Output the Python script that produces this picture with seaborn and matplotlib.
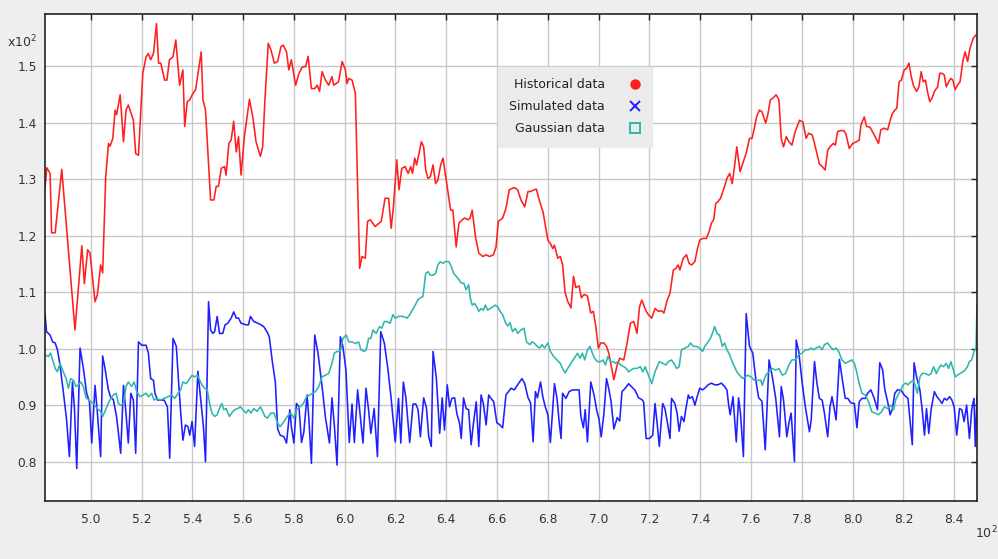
import matplotlib
matplotlib.use("Agg")
import matplotlib.pyplot as plt
import seaborn as sns
import pandas as pd
from matplotlib.lines import Line2D

# ---- data (x in units, y in units; axis labels show value/100) ----
hist_pts = [(482.0,128.4),(482.7,132.0),(484.0,131.0),(484.6,120.5),(486.0,120.5),(488.6,131.7),(493.8,103.3),(496.5,118.2),(497.5,111.5),(498.8,117.5),(499.7,116.9),(501.7,108.3),(502.6,109.5),(503.9,114.8),(504.7,113.4),(505.9,130.4),(507.0,136.3),(507.6,135.8),(508.7,137.2),(509.6,142.2),(510.2,141.4),(511.6,144.9),(512.9,136.6),(513.9,142.2),(514.8,143.1),(516.8,140.4),(517.7,134.5),(518.8,134.2),(520.5,148.7),(521.8,151.6),(522.7,152.2),(523.6,151.1),(524.7,152.2),(525.9,157.5),(526.7,150.5),(527.6,150.5),(529.1,147.5),(530.0,147.5),
(531.0,151.1),(532.4,151.6),(533.5,154.6),(535.0,146.6),(536.3,149.3),(537.0,139.3),(538.0,143.7),(539.0,144.0),(540.3,145.2),(541.3,145.8),(543.5,152.5),(544.2,144.0),(545.2,142.2),(547.2,126.3),(548.5,126.3),(549.4,128.7),(550.3,128.7),(551.4,131.9),(552.7,132.2),(553.3,130.7),(554.4,136.3),(555.3,136.9),(556.3,140.2),(557.3,134.8),(558.2,137.5),(559.2,130.7),(560.5,137.5),(562.5,144.1),(563.8,141.0),(565.1,136.6),(566.8,134.0),(567.7,135.7),(568.6,144.0),(569.9,154.0),(571.0,152.8),(572.3,150.5),(573.6,150.8),(574.9,153.4),(575.8,153.7),(577.1,152.5),(578.0,149.3),(579.0,151.1),(580.7,146.6),(582.0,148.7),(583.3,149.8),(584.6,149.9),(585.6,151.7),(586.9,146.0),(588.2,146.0),(589.2,146.6),(590.1,145.5),(591.1,149.0),(592.4,147.5),(593.7,146.6),(595.0,148.1),(595.7,146.6),(597.6,147.2),(599.0,150.8),(600.3,149.3),(600.9,146.9),(601.6,147.8),(602.9,147.5),(604.2,145.2),(605.1,129.2),(605.9,114.2),(606.8,116.3),(608.1,116.0),(609.0,122.5),(610.1,122.8),(612.0,121.6),(614.4,122.5),(615.9,126.6),(617.3,126.6),(618.3,121.3),(619.2,125.1),(620.5,133.4),(621.4,128.1),(622.5,131.9),(623.8,132.2),
(625.0,131.0),(626.0,132.2),(626.7,131.0),(627.6,133.7),(628.3,132.5),(629.3,134.6),(630.2,136.6),(631.1,135.7),(631.9,131.6),(632.8,130.1),(633.7,130.4),(634.8,132.5),(635.8,129.2),(636.7,129.8),(637.8,132.5),(638.7,133.7),(640.0,129.8),(641.7,124.5),(642.6,124.5),(643.9,118.0),(645.0,122.2),(646.3,122.8),(647.2,123.1),(648.5,122.8),(649.4,123.1),(650.2,124.5),(651.5,119.8),(652.8,116.9),(654.4,116.3),(655.7,116.6),(657.0,116.3),(658.6,116.6),(659.6,118.0),(660.5,122.5),(662.2,123.1),(663.5,124.8),(664.8,128.1),(666.8,128.5),(668.1,128.1),(669.4,126.3),
(670.9,125.1),(672.2,127.8),(673.3,127.8),(674.5,128.1),(675.5,128.2),(676.8,126.0),(678.1,124.2),(679.4,120.7),(680.0,119.2),(681.0,118.6),(681.9,117.7),(682.6,118.3),(683.9,116.0),(684.9,116.3),(685.8,114.9),(686.8,109.9),(687.8,108.4),(689.1,107.2),(690.1,112.8),(691.0,110.8),(692.3,111.1),(693.2,109.0),(694.3,109.6),(695.6,109.3),(696.9,106.3),(697.9,106.6),(698.8,104.2),(699.9,100.1),(700.8,101.0),(702.1,101.0),(703.1,100.4),(704.0,99.2),(704.9,97.1),(706.0,94.5),(707.3,97.1),(708.3,98.3),(709.9,98.0),(711.2,101.0),(712.5,104.5),(713.8,104.8),(715.1,102.7),(716.1,107.4),(717.0,108.6),
(718.7,106.6),(719.6,106.0),(720.9,105.4),(722.2,107.1),(723.5,106.6),(724.8,106.7),(725.7,106.3),(727.0,108.6),(728.1,109.8),(729.4,113.9),(730.4,114.2),(731.3,114.8),(732.0,113.9),(733.3,116.0),(734.6,116.6),(735.6,115.1),(736.6,114.8),(737.9,115.4),(738.8,117.5),(739.8,119.2),(741.1,119.5),(742.4,119.5),(743.5,120.7),(744.4,122.2),(745.3,122.8),(746.1,125.7),(747.0,126.0),(748.0,126.6),(748.7,127.5),(749.6,128.7),(750.5,130.1),(751.6,131.0),(752.6,129.2),(753.5,132.2),(754.4,135.7),(755.7,131.3),(756.8,132.8),(758.1,134.6),(759.4,137.2),(760.4,137.2),(761.3,139.0),(762.2,141.0),(763.3,142.2),(764.3,141.9),
(765.8,139.9),(766.7,141.6),(767.6,144.0),(768.6,144.3),(769.9,144.9),(771.0,144.0),(771.9,137.2),(772.8,135.7),(773.9,137.5),(774.9,136.6),(776.1,136.0),(777.4,138.4),(779.1,140.4),(780.4,140.1),(781.7,137.2),(782.7,138.1),(784.1,137.8),(785.0,136.3),(785.9,134.6),(786.9,132.7),(788.0,132.2),(789.2,131.6),(790.2,135.1),(791.1,135.7),(792.4,136.3),(793.2,136.0),(794.1,138.4),(795.4,138.6),(796.7,138.5),(797.4,137.9),(798.7,135.4),(800.0,136.3),(801.6,136.6),(802.6,136.9),(803.3,139.6),(804.6,141.0),(805.5,139.3),(806.8,139.2),(807.8,138.4),(809.2,137.2),(810.2,136.3),(811.1,138.7),(812.4,139.0),
(813.8,138.7),(814.8,140.4),(815.7,141.6),(816.6,142.2),(817.4,142.5),(818.3,147.2),(819.2,147.5),(820.3,149.3),(821.3,149.6),(822.2,150.5),(823.1,148.1),(823.9,146.6),(825.2,145.5),(826.1,146.3),(827.0,149.0),(827.8,147.2),(828.7,147.5),(829.6,145.2),(830.4,143.7),(831.3,144.3),(832.2,145.5),(833.5,146.3),(834.3,148.7),(835.2,148.7),(836.1,148.4),(836.9,146.3),(837.8,147.2),(838.7,147.8),(839.5,147.5),(840.4,145.8),(841.3,146.6),(842.3,147.2),(843.4,150.8),(844.3,152.5),(845.3,150.8),(846.2,153.1),(847.5,154.9),(848.6,155.5)]

sim_pts = [(482.0,106.2),(482.6,103.0),(484.0,102.4),(485.0,101.2),(486.0,101.0),(486.9,99.8),(487.9,97.1),(489.2,92.4),(490.5,87.4),(491.6,80.9),(492.8,94.1),(493.6,89.4),(494.5,78.8),(495.8,100.1),(497.1,96.5),(498.4,92.1),(499.5,90.6),(500.4,83.3),(501.7,93.5),(502.6,88.8),(503.9,80.9),(504.7,98.7),(505.6,96.6),(506.9,92.8),(507.9,91.3),(508.9,91.0),(510.2,87.9),(511.8,81.5),(512.9,93.5),(513.9,88.5),(514.8,83.3),(515.8,92.1),(516.8,90.9),(517.7,81.5),(518.8,101.2),(520.1,100.6),(521.8,100.6),(522.7,99.2),(523.6,94.7),(524.7,94.4),(525.3,92.1),(526.3,90.9),(527.3,90.9),(528.9,90.9),
(530.2,89.7),(531.1,80.6),(532.4,101.8),(533.7,100.4),(534.6,94.1),(535.4,88.9),(536.3,83.8),(537.3,86.5),(538.3,86.2),(539.0,84.7),(539.9,87.1),(540.9,82.7),(542.2,96.0),(543.5,90.2),(544.4,86.1),(545.2,80.0),(546.4,108.3),(547.2,103.3),(548.1,102.7),(548.8,103.0),(549.8,105.7),(550.7,102.7),(552.0,102.7),(552.9,104.2),(554.0,104.5),(555.3,105.4),(556.3,106.5),(557.3,105.4),(558.2,105.4),(559.2,104.5),(561.2,104.2),(562.1,104.2),(562.9,105.7),(564.2,104.8),(565.8,104.5),(567.1,104.2),(568.1,103.9),(569.4,103.0),(570.3,102.1),(571.6,97.4),(572.7,94.1),(573.6,85.8),(574.6,84.7),
(576.1,84.4),(577.1,83.3),(578.4,89.2),(579.0,86.2),(580.0,83.3),(581.0,90.3),(582.0,89.7),(583.0,83.4),(583.9,85.2),(585.2,91.8),(585.9,87.6),(586.9,79.7),(588.2,102.4),(589.5,99.2),(591.1,93.3),(592.4,87.9),(594.0,83.3),(595.0,91.3),(595.9,86.6),(597.0,79.4),(598.3,102.1),(599.3,100.4),(600.5,96.2),(601.8,83.4),(602.9,90.2),(603.8,83.4),(605.1,92.7),(606.1,88.3),(607.2,83.3),(608.4,93.0),(609.4,89.2),(610.3,85.0),(611.6,89.4),(612.9,80.9),(614.2,103.0),(615.6,101.0),(616.9,96.8),(618.3,91.2),(619.9,83.5),(621.2,91.2),(622.1,83.3),(623.1,94.1),
(624.1,91.3),(625.6,83.4),(626.9,90.2),(628.0,90.2),(628.9,89.2),(629.8,84.4),(631.1,91.3),(632.2,89.5),(633.1,84.4),(634.1,82.7),(634.8,99.5),(636.1,94.8),(637.4,85.0),(638.4,91.3),(639.3,85.6),(640.4,93.6),(641.3,89.7),(642.2,91.2),(643.3,91.3),(644.2,88.4),(645.2,86.9),(645.9,84.1),(646.8,91.3),(647.8,89.4),(648.8,89.2),(649.8,83.0),(650.7,86.8),(651.8,90.6),(652.8,82.7),(653.7,91.8),(654.6,90.3),(655.7,86.5),(656.7,91.8),(657.6,91.2),(658.7,90.6),(659.9,86.9),(660.9,86.6),(662.2,86.0),(663.5,91.8),(665.5,93.0),(666.8,92.7),(668.1,93.6),(669.8,94.7),
(670.9,93.8),(672.2,91.3),(673.2,90.4),(674.2,83.5),(675.1,92.4),(675.9,91.3),(677.1,94.1),(678.1,91.3),(679.0,89.7),(680.0,88.3),(681.0,83.4),(682.6,93.8),(683.6,91.2),(684.5,86.8),(685.2,84.1),(685.8,92.1),(687.1,91.2),(688.4,92.4),(689.7,92.7),(691.0,92.7),(692.3,92.7),(693.0,88.0),(694.0,86.0),(694.7,89.2),(695.6,83.5),(696.9,94.1),(698.2,91.8),(699.2,89.2),(700.1,87.6),(701.0,84.4),(702.1,88.6),(703.1,94.7),(704.0,92.9),(704.9,90.6),(706.0,85.8),(707.3,87.8),(708.3,87.2),(709.2,92.4),(710.5,93.0),(711.8,93.8),(713.1,93.2),(714.4,92.6),(715.7,91.3),(717.0,91.0),
(717.7,90.6),(718.7,84.1),(720.0,84.1),(721.3,84.7),(722.2,90.3),(723.1,86.5),(723.9,82.7),(725.2,90.3),(726.1,89.4),(727.0,87.1),(728.1,84.1),(728.7,91.2),(730.0,90.3),(730.9,88.6),(731.7,85.4),(732.6,88.0),(733.6,87.1),(734.3,89.2),(735.3,91.8),(735.9,91.2),(736.9,91.5),(737.9,90.0),(738.8,91.5),(739.8,93.0),(740.9,92.7),(741.8,93.0),(743.1,93.6),(744.4,93.9),(745.7,93.6),(747.0,93.6),(748.3,93.9),(749.6,93.3),(750.5,92.7),(751.3,89.7),(751.8,88.3),(752.9,91.5),(754.2,83.5),(755.1,91.3),(755.9,88.3),(757.0,80.9),(758.1,106.2),(759.4,100.4),(760.7,99.2),(762.0,94.1),(763.0,91.3),(764.3,90.7),
(765.6,82.1),(767.1,98.0),(768.4,95.0),(769.7,91.3),(771.2,84.4),(771.9,93.3),(772.8,90.9),(774.1,84.4),(774.9,86.8),(775.8,88.6),(777.1,80.0),(777.8,101.5),(778.8,99.5),(780.1,94.1),(781.4,89.7),(783.0,85.3),(783.7,87.4),(785.0,97.7),(785.9,94.1),(786.9,91.2),(788.0,90.9),(788.9,88.6),(790.2,84.4),(791.1,89.7),(791.9,91.5),(792.4,90.3),(793.5,87.4),(794.8,98.1),(796.1,94.1),(797.1,91.2),(798.1,91.2),(799.3,90.4),(800.7,90.3),(801.7,86.0),(802.6,90.6),(803.7,91.2),(805.0,91.2),(805.9,92.1),(807.2,92.7),(808.5,91.2),(809.8,89.2),(810.7,97.5),(811.8,96.3),
(812.7,92.7),(813.8,90.6),(814.8,88.3),(815.7,89.4),(816.6,92.1),(817.7,92.7),(819.0,92.7),(820.3,91.8),(821.8,91.2),(822.6,87.4),(823.5,83.0),(824.2,97.5),(825.2,95.0),(826.5,92.7),(827.4,89.2),(828.3,84.7),(829.1,89.4),(830.0,85.0),(830.9,89.2),(832.2,92.4),(833.2,91.5),(834.3,90.9),(835.2,90.3),(836.1,91.2),(837.1,90.9),(838.2,91.5),(839.1,90.9),(840.0,89.7),(841.0,84.7),(842.1,89.4),(843.0,89.2),(843.9,87.1),(844.9,90.0),(846.0,84.1),(846.9,89.2),(847.8,91.2),(848.3,82.7),(849.0,91.8)]

gauss_pts = [(482.0,98.9),(483.3,98.6),(484.2,99.2),(485.0,98.0),(486.0,96.5),(486.9,95.9),(487.9,97.4),(489.2,95.9),(490.3,94.7),(491.2,93.0),(492.1,94.7),(493.2,94.4),(494.2,93.3),(495.1,93.6),(496.1,94.1),(497.1,93.3),(498.2,91.3),(499.1,91.0),(500.0,90.6),(501.1,90.3),(502.1,89.7),(503.0,89.2),(503.9,88.9),(504.7,88.0),(505.6,88.9),(506.9,90.3),(507.9,91.2),(508.9,91.8),(510.0,92.1),(510.9,90.3),(511.8,90.0),(512.9,90.3),(513.9,93.3),(514.8,94.1),(516.1,93.3),(517.1,94.1),(518.1,92.4),(519.4,91.5),(520.7,91.8),(521.8,92.1),(522.7,91.5),(524.0,92.1),(524.9,90.9),(526.0,91.2),(527.3,90.9),(528.9,91.2),
(530.5,91.5),(531.8,91.8),(533.1,91.2),(534.4,92.1),(535.4,92.7),(536.3,94.1),(537.6,93.8),(539.0,94.7),(539.9,95.3),(540.9,95.0),(542.0,95.3),(542.9,94.4),(543.8,93.6),(544.8,93.0),(545.9,92.7),(546.8,90.3),(547.7,88.6),(548.8,88.0),(549.8,88.3),(550.7,89.4),(551.6,90.3),(552.4,89.2),(553.3,89.4),(554.6,88.0),(555.5,88.6),(556.6,89.2),(557.9,89.4),(558.9,89.7),(559.9,89.2),(561.2,88.6),(562.1,89.2),(563.1,88.6),(564.2,89.4),(565.5,88.9),(566.8,89.7),(567.7,88.9),(568.6,88.0),(569.6,87.7),(570.9,88.6),(572.2,88.6),(573.6,86.8),(574.6,86.2),
(576.1,87.1),(577.4,88.0),(578.7,88.6),(580.0,87.7),(581.0,89.2),(582.4,89.7),(583.7,90.3),(585.0,91.5),(586.3,91.8),(587.2,92.1),(588.5,92.4),(589.8,93.3),(591.1,95.0),(592.4,95.3),(593.7,95.6),(595.0,97.4),(595.9,99.2),(597.0,99.5),(598.3,99.5),(599.3,101.8),(600.6,102.4),(601.6,101.2),(602.9,101.2),(604.2,100.9),(605.5,101.2),(606.4,99.8),(607.7,99.5),(608.5,99.8),(609.4,101.8),(610.3,101.8),(611.1,103.3),(612.4,102.7),(613.7,103.9),(614.6,103.6),(615.6,104.8),(616.6,104.8),(617.9,104.5),(619.0,106.0),(619.9,105.4),(621.2,105.7),
(623.0,105.7),(624.6,105.4),(625.6,106.0),(626.9,107.0),(628.0,107.9),(628.9,108.7),(629.8,109.0),(630.8,109.2),(631.9,113.3),(632.8,113.6),(633.7,113.0),(634.8,113.0),(635.8,113.3),(636.7,114.8),(637.6,115.4),(638.7,115.1),(639.7,115.4),(641.0,115.4),(642.0,114.5),(642.9,113.3),(643.9,112.8),(645.0,112.2),(645.9,111.6),(646.9,111.6),(647.8,110.4),(648.8,111.3),(649.5,108.9),(650.2,107.7),(651.1,108.0),(652.0,107.4),(652.8,106.6),(653.7,107.1),(654.6,106.8),(655.4,107.7),(656.3,106.8),(657.3,107.1),(658.3,107.4),(659.3,107.7),(660.3,107.4),(661.2,106.6),(662.2,106.0),(663.3,104.6),(664.2,104.0),(665.1,104.6),(666.1,103.0),(667.2,103.6),(668.1,102.7),(669.4,103.3),
(670.6,103.6),(671.6,101.2),(672.9,100.7),(673.8,101.2),(674.8,100.9),(675.8,100.4),(676.8,100.1),(677.7,100.7),(678.7,100.1),(680.0,101.0),(681.0,99.5),(682.3,98.6),(683.6,98.0),(684.9,97.4),(685.8,96.5),(686.8,95.7),(687.8,96.5),(689.1,97.4),(690.4,98.3),(691.7,99.2),(692.7,98.3),(693.6,99.2),(694.5,98.0),(695.6,99.8),(696.6,100.4),(697.5,99.2),(698.4,98.3),(699.5,97.7),(700.8,97.7),(701.8,98.0),(702.7,97.1),(703.6,98.6),(704.7,97.7),(705.7,97.7),(706.6,97.4),(707.5,97.7),(708.6,97.1),(709.9,96.8),(710.9,96.5),(711.8,95.9),(712.7,96.2),(713.8,96.5),(715.1,96.5),(716.4,96.8),
(717.4,95.9),(718.3,96.8),(719.6,95.3),(720.9,93.8),(722.2,95.9),(723.9,97.7),(725.2,97.4),(726.5,97.1),(727.4,97.7),(728.7,98.0),(729.6,97.4),(730.7,96.5),(731.7,96.8),(732.6,99.8),(734.0,100.1),(735.3,100.4),(736.2,101.0),(737.2,100.4),(738.5,100.4),(739.8,100.1),(740.9,99.5),(741.8,100.4),(743.1,101.2),(744.0,101.8),(744.8,102.7),(745.7,103.9),(746.6,102.7),(747.6,102.4),(748.7,100.4),(749.6,101.0),(750.5,99.8),(751.6,98.9),(752.6,97.7),(753.5,96.8),(754.4,95.9),(755.5,95.3),(756.8,94.7),(757.8,95.0),(758.7,95.3),(760.0,95.0),(761.3,94.4),(762.6,94.4),(763.9,94.4),
(764.4,93.5),(765.8,95.3),(767.1,95.9),(768.4,96.5),(769.7,96.2),(771.0,96.5),(772.3,95.3),(773.6,95.6),(774.9,97.1),(776.1,98.0),(777.5,98.0),(778.8,98.9),(780.1,99.2),(781.4,99.8),(782.7,99.8),(783.7,100.1),(784.6,99.8),(785.6,100.1),(786.9,100.4),(788.0,99.8),(788.9,100.7),(790.2,101.0),(791.1,100.4),(792.4,99.8),(793.5,100.1),(794.5,99.5),(795.8,98.0),(797.1,97.4),(798.4,97.7),(799.7,98.0),(800.7,97.4),(801.6,95.9),(802.6,93.8),(803.7,92.1),(805.0,91.8),(806.3,90.6),(807.6,88.8),(808.9,88.6),(810.2,88.3),(811.5,88.9),
(812.5,89.7),(813.8,89.4),(815.1,90.0),(816.1,89.2),(817.0,91.0),(817.9,91.8),(819.0,92.7),(819.9,93.6),(820.9,93.9),(821.8,93.6),(822.9,94.1),(823.9,94.4),(824.8,93.3),(825.5,92.1),(826.5,95.0),(827.4,95.6),(828.7,95.6),(830.0,95.3),(830.9,95.6),(831.9,96.8),(833.0,95.6),(833.9,96.5),(834.8,97.1),(835.8,96.8),(836.9,97.4),(837.8,96.5),(838.7,97.7),(839.7,96.2),(840.4,95.0),(841.3,95.3),(842.3,95.6),(843.4,95.9),(844.3,96.2),(845.2,96.8),(846.0,97.7),(846.9,98.0),(847.8,99.5),(848.6,100.0),(849.0,108.0)]

series_names = ["Historical data", "Simulated data", "Gaussian data"]
series_colors = ["#ff1f1f", "#1f1fff", "#2fb6ae"]

x_ticks = [500, 520, 540, 560, 580, 600, 620, 640, 660, 680, 700, 720, 740, 760, 780, 800, 820, 840]
x_tick_labels = ["5.0", "5.2", "5.4", "5.6", "5.8", "6.0", "6.2", "6.4", "6.6", "6.8", "7.0", "7.2", "7.4", "7.6", "7.8", "8.0", "8.2", "8.4"]
y_ticks = [80, 90, 100, 110, 120, 130, 140, 150]
y_tick_labels = ["0.8", "0.9", "1.0", "1.1", "1.2", "1.3", "1.4", "1.5"]

# ---- styling ----
sns.set_style("white")
plt.rcParams['font.family'] = ['DejaVu Sans']

fig = plt.figure(figsize=(9.98, 5.59), dpi=100, facecolor='#eeeeee')
ax = fig.add_axes([0.0451, 0.1043, 0.9339, 0.8707])
ax.set_facecolor('white')

frames = []
for name, pts in zip(series_names, [hist_pts, sim_pts, gauss_pts]):
    xs, ys = zip(*pts)
    frames.append(pd.DataFrame({'x': xs, 'y': ys, 'series': name}))
df = pd.concat(frames, ignore_index=True)

sns.lineplot(data=df, x='x', y='y', hue='series', hue_order=series_names,
             palette=dict(zip(series_names, series_colors)),
             estimator=None, sort=False, linewidth=1.15, legend=False, ax=ax)

ax.set_xlim(482, 849)
ax.set_ylim(73.1, 159.2)
ax.set_xticks(x_ticks, x_tick_labels)
ax.set_yticks(y_ticks, y_tick_labels)
ax.set_xlabel('')
ax.set_ylabel('')
ax.grid(True, color='#c8c8c8', linewidth=1.0)
ax.set_axisbelow(True)
ax.tick_params(direction='in', length=4, width=1.0, top=True, right=True,
               labelsize=8.8, labelcolor='#333333', color='#222222')
ax.tick_params(axis='x', pad=9)
ax.tick_params(axis='y', pad=6)
for sp in ax.spines.values():
    sp.set_visible(True)
    sp.set_color('#222222')
    sp.set_linewidth(1.2)

handles = [
    Line2D([], [], ls='none', marker='o', color=series_colors[0], markersize=6.5),
    Line2D([], [], ls='none', marker='x', color=series_colors[1], markersize=7.5, markeredgewidth=1.4),
    Line2D([], [], ls='none', marker='s', markerfacecolor='none', markeredgecolor=series_colors[2],
           markersize=7.5, markeredgewidth=1.4),
]
leg = ax.legend(handles, series_names, loc='upper left', bbox_to_anchor=(0.486, 0.891),
                borderaxespad=0, markerfirst=False, frameon=True, fancybox=False,
                facecolor='#ebebeb', edgecolor='#ebebeb', framealpha=1, fontsize=9,
                labelspacing=0.72, handlelength=1.0, handletextpad=1.9, borderpad=0.9)
for t in leg.get_texts():
    t.set_color('#222222')

fig.text(7/998, 1 - 47/559, r'x10$^2$', fontsize=9, color='#333333', va='baseline', ha='left')
fig.text(975/998, 1 - 538/559, r'10$^2$', fontsize=9, color='#333333', va='baseline', ha='left')

fig.savefig('out.png', dpi=100, facecolor=fig.get_facecolor())
